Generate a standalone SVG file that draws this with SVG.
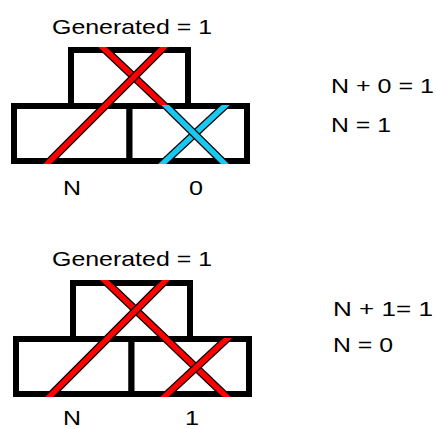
<svg xmlns="http://www.w3.org/2000/svg" width="436" height="429" viewBox="0 0 436 429">
  <style>
    .box { fill: #ffffff; stroke: #000000; stroke-width: 6; }
    .edge { fill: none; stroke: #000000; stroke-width: 8; }
    .red { fill: none; stroke: #ff0000; stroke-width: 5.5; }
    .blue { fill: none; stroke: #19c8f0; stroke-width: 5.5; }
    text { font-family: "Liberation Sans", Arial, sans-serif; font-size: 21px; fill: #000000; }
  </style>
  <defs>
    <!-- outer outline of the three bricks -->
    <clipPath id="clip-all">
      <rect x="68" y="47" width="123" height="59"/>
      <rect x="11" y="103" width="239" height="61"/>
    </clipPath>
    <clipPath id="clip-top">
      <rect x="68" y="47" width="123" height="58"/>
    </clipPath>
    <clipPath id="clip-bottom">
      <rect x="11" y="105" width="239" height="59"/>
    </clipPath>
  </defs>

  <!-- Example 1: N + 0 -->
  <g id="example-1">
    <g id="pyramid-1">
      <rect id="brick-top-1" class="box" x="71" y="50" width="117" height="56"/>
      <rect id="brick-n-1" class="box" x="14" y="106" width="115.5" height="55"/>
      <rect id="brick-0-1" class="box" x="129.5" y="106" width="117.5" height="55"/>
    </g>
    <g id="connectors-1">
      <g clip-path="url(#clip-top)">
        <line class="edge" x1="98" y1="43" x2="170" y2="111"/>
        <line class="red" x1="98" y1="43" x2="170" y2="111"/>
      </g>
      <g clip-path="url(#clip-bottom)">
        <line class="edge" x1="229" y1="102" x2="159" y2="167"/>
        <line class="blue" x1="229" y1="102" x2="159" y2="167"/>
        <line class="edge" x1="160" y1="100" x2="228" y2="167"/>
        <line class="blue" x1="160" y1="100" x2="228" y2="167"/>
      </g>
      <g clip-path="url(#clip-all)">
        <line class="edge" x1="167" y1="44" x2="43" y2="168"/>
        <line class="red" x1="167" y1="44" x2="43" y2="168"/>
      </g>
    </g>
    <text id="title-1" x="52" y="34" textLength="160" lengthAdjust="spacingAndGlyphs">Generated = 1</text>
    <text id="label-n-1" x="63" y="195" textLength="18" lengthAdjust="spacingAndGlyphs">N</text>
    <text id="label-0-1" x="189" y="195" textLength="14" lengthAdjust="spacingAndGlyphs">0</text>
    <text id="eq-1a" x="331" y="93" textLength="103" lengthAdjust="spacingAndGlyphs">N + 0 = 1</text>
    <text id="eq-1b" x="331" y="132" textLength="60" lengthAdjust="spacingAndGlyphs">N = 1</text>
  </g>

  <!-- Example 2: N + 1 -->
  <g id="example-2">
    <g id="pyramid-2" transform="translate(2 233)">
      <rect id="brick-top-2" class="box" x="71" y="50" width="117" height="56"/>
      <rect id="brick-n-2" class="box" x="14" y="106" width="115.5" height="55"/>
      <rect id="brick-1-2" class="box" x="129.5" y="106" width="117.5" height="55"/>
    </g>
    <g id="connectors-2" transform="translate(2 233)">
      <g clip-path="url(#clip-all)">
        <line class="edge" x1="98" y1="43" x2="228" y2="167"/>
        <line class="red" x1="98" y1="43" x2="228" y2="167"/>
      </g>
      <g clip-path="url(#clip-bottom)">
        <line class="edge" x1="229" y1="102" x2="159" y2="167"/>
        <line class="red" x1="229" y1="102" x2="159" y2="167"/>
      </g>
      <g clip-path="url(#clip-all)">
        <line class="edge" x1="167" y1="44" x2="43" y2="168"/>
        <line class="red" x1="167" y1="44" x2="43" y2="168"/>
      </g>
    </g>
    <text id="title-2" x="52" y="266" textLength="160" lengthAdjust="spacingAndGlyphs">Generated = 1</text>
    <text id="label-n-2" x="63" y="425" textLength="18" lengthAdjust="spacingAndGlyphs">N</text>
    <text id="label-1-2" x="185" y="425" textLength="14" lengthAdjust="spacingAndGlyphs">1</text>
    <text id="eq-2a" x="333" y="316" textLength="100" lengthAdjust="spacingAndGlyphs">N + 1= 1</text>
    <text id="eq-2b" x="333" y="352" textLength="60" lengthAdjust="spacingAndGlyphs">N = 0</text>
  </g>
</svg>
